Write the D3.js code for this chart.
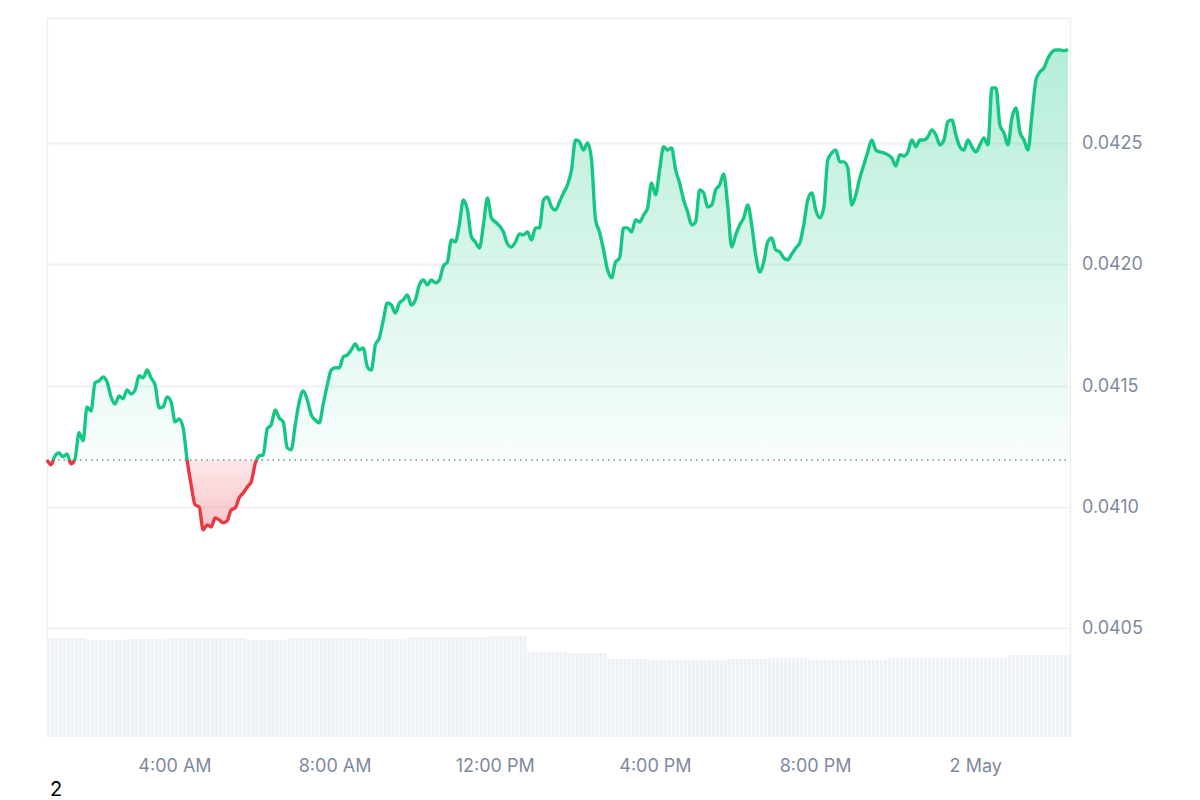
<!DOCTYPE html>
<html>
<head>
<meta charset="utf-8">
<script src="https://cdn.jsdelivr.net/npm/d3@7"></script>
<style>
  body { margin: 0; background: #fff; font-family: Inter, "Noto Sans", sans-serif; }
</style>
</head>
<body>
<div id="chart"></div>
<script>
const width = 1200;
const height = 800;
const margin = { top: 18, right: 130, bottom: 63, left: 47 };

// price every 6 minutes starting 1 May 00:49
const startTime = new Date(2024, 4, 1, 0, 49);
const stepMinutes = 6;
const prices = [
  41193, 41173, 41210, 41222, 41206, 41218, 41177, 41197, 41305, 41272,
  41412, 41395, 41511, 41519, 41535, 41515, 41453, 41424, 41457, 41445,
  41482, 41465, 41482, 41540, 41531, 41564, 41531, 41502, 41408, 41412,
  41453, 41432, 41350, 41362, 41325, 41193, 41090, 41008, 41000, 40905,
  40925, 40917, 40954, 40946, 40934, 40942, 40987, 40995, 41037, 41057,
  41082, 41103, 41177, 41210, 41214, 41321, 41338, 41399, 41366, 41350,
  41243, 41235, 41338, 41432, 41478, 41441, 41379, 41358, 41346, 41424,
  41502, 41564, 41573, 41573, 41618, 41626, 41647, 41671, 41647, 41655,
  41577, 41564, 41667, 41696, 41770, 41840, 41832, 41799, 41840, 41853,
  41873, 41832, 41853, 41915, 41935, 41915, 41935, 41923, 41935, 41993,
  42009, 42100, 42092, 42166, 42265, 42224, 42113, 42092, 42067, 42162,
  42273, 42191, 42174, 42158, 42133, 42084, 42071, 42092, 42125, 42121,
  42133, 42100, 42150, 42150, 42265, 42277, 42236, 42224, 42257, 42294,
  42327, 42389, 42512, 42504, 42471, 42500, 42430, 42183, 42133, 42059,
  41977, 41944, 42009, 42026, 42150, 42150, 42133, 42183, 42174, 42203,
  42232, 42335, 42286, 42389, 42484, 42471, 42479, 42389, 42335, 42265,
  42216, 42162, 42174, 42306, 42294, 42236, 42244, 42306, 42327, 42372,
  42244, 42071, 42121, 42162, 42191, 42244, 42162, 42038, 41968, 42009,
  42092, 42108, 42059, 42051, 42026, 42018, 42042, 42067, 42088, 42162,
  42265, 42294, 42224, 42191, 42232, 42430, 42459, 42471, 42422, 42422,
  42397, 42244, 42286, 42356, 42409, 42463, 42512, 42471, 42463, 42459,
  42451, 42438, 42405, 42451, 42446, 42463, 42512, 42484, 42512, 42512,
  42525, 42554, 42533, 42492, 42512, 42587, 42595, 42533, 42484, 42471,
  42512, 42484, 42463, 42492, 42521, 42492, 42727, 42727, 42574, 42541,
  42492, 42603, 42644, 42545, 42512, 42471, 42615, 42760, 42793, 42809,
  42850, 42875, 42883, 42883, 42880, 42885
].map(v => v / 1e6);

// hourly volume (relative units), one value per hour from 00:49
const volumeHourly = [
  99, 97, 98, 99, 99, 97, 99, 99, 98, 100, 100, 101, 85,
  84, 78, 77, 77, 78, 79, 77, 77, 79, 79, 79, 82, 82
];

const priceTicks = [0.0405, 0.0410, 0.0415, 0.0420, 0.0425];
const timeTicks = [
  new Date(2024, 4, 1, 4), new Date(2024, 4, 1, 8), new Date(2024, 4, 1, 12),
  new Date(2024, 4, 1, 16), new Date(2024, 4, 1, 20), new Date(2024, 4, 2, 0)
];
const timeLabels = ['4:00 AM', '8:00 AM', '12:00 PM', '4:00 PM', '8:00 PM', '2 May'];

const data = prices.map((p, i) => ({
  t: new Date(startTime.getTime() + i * stepMinutes * 60000),
  p,
  v: volumeHourly[Math.min(volumeHourly.length - 1, Math.floor(i * stepMinutes / 60))]
}));
const basePrice = prices[0];

const innerRight = width - margin.right;
const innerBottom = height - margin.bottom;

const x = d3.scaleTime()
  .domain([startTime, data[data.length - 1].t])
  .range([margin.left, innerRight - 2]);

const y = d3.scaleLinear()
  .domain([0.040051, 0.043015])
  .range([innerBottom, margin.top]);

const yVol = d3.scaleLinear()
  .domain([0, 110])
  .range([innerBottom, innerBottom - 110]);

const svg = d3.select('#chart')
  .append('svg')
  .attr('width', width)
  .attr('height', height);

const defs = svg.append('defs');
const gUp = defs.append('linearGradient').attr('id', 'gUp')
  .attr('gradientUnits', 'userSpaceOnUse')
  .attr('x1', 0).attr('x2', 0)
  .attr('y1', y(0.0429)).attr('y2', y(basePrice));
gUp.append('stop').attr('offset', '0%').attr('stop-color', '#16c784').attr('stop-opacity', 0.32);
gUp.append('stop').attr('offset', '100%').attr('stop-color', '#16c784').attr('stop-opacity', 0.03);
const gDown = defs.append('linearGradient').attr('id', 'gDown')
  .attr('gradientUnits', 'userSpaceOnUse')
  .attr('x1', 0).attr('x2', 0).attr('y1', y(basePrice)).attr('y2', y(0.0409));
gDown.append('stop').attr('offset', '0%').attr('stop-color', '#ea3943').attr('stop-opacity', 0.12);
gDown.append('stop').attr('offset', '100%').attr('stop-color', '#ea3943').attr('stop-opacity', 0.3);

defs.append('clipPath').attr('id', 'clipUp').append('rect')
  .attr('x', 0).attr('y', 0).attr('width', width).attr('height', y(basePrice));
defs.append('clipPath').attr('id', 'clipDown').append('rect')
  .attr('x', 0).attr('y', y(basePrice)).attr('width', width).attr('height', height);

// grid
svg.append('g').selectAll('line')
  .data(priceTicks)
  .join('line')
  .attr('x1', margin.left).attr('x2', innerRight)
  .attr('y1', d => Math.round(y(d)) + 0.5).attr('y2', d => Math.round(y(d)) + 0.5)
  .attr('stroke', '#eff1f4').attr('stroke-width', 2);

// frame
svg.append('path')
  .attr('d', `M${margin.left + 0.5},${innerBottom}V${margin.top + 0.5}H${innerRight + 0.5}V${innerBottom}`)
  .attr('fill', 'none').attr('stroke', '#eceef1').attr('stroke-width', 1.5);

// volume
svg.append('g').selectAll('rect')
  .data(data)
  .join('rect')
  .attr('x', d => x(d.t))
  .attr('width', 3.2)
  .attr('y', d => yVol(d.v))
  .attr('height', d => yVol(0) - yVol(d.v))
  .attr('fill', '#eef1f5');

// area fills
const area = d3.area()
  .x(d => x(d.t))
  .y0(y(basePrice))
  .y1(d => y(d.p))
  .curve(d3.curveMonotoneX);

svg.append('path').datum(data).attr('d', area)
  .attr('fill', 'url(#gUp)').attr('clip-path', 'url(#clipUp)');
svg.append('path').datum(data).attr('d', area)
  .attr('fill', 'url(#gDown)').attr('clip-path', 'url(#clipDown)');

// baseline
svg.append('line')
  .attr('x1', margin.left).attr('x2', innerRight)
  .attr('y1', y(basePrice)).attr('y2', y(basePrice))
  .attr('stroke', '#858ca2').attr('stroke-width', 1.3)
  .attr('stroke-dasharray', '1.5,4');

// price line
const line = d3.line()
  .x(d => x(d.t))
  .y(d => y(d.p))
  .curve(d3.curveMonotoneX);

svg.append('path').datum(data).attr('d', line)
  .attr('fill', 'none').attr('stroke', '#16c784').attr('stroke-width', 3.4)
  .attr('stroke-linejoin', 'round').attr('clip-path', 'url(#clipUp)');
svg.append('path').datum(data).attr('d', line)
  .attr('fill', 'none').attr('stroke', '#ea3943').attr('stroke-width', 3.4)
  .attr('stroke-linejoin', 'round').attr('clip-path', 'url(#clipDown)');

// right axis
const yAxis = svg.append('g')
  .attr('transform', `translate(${innerRight}, 0)`)
  .call(d3.axisRight(y).tickValues(priceTicks).tickSize(0).tickPadding(12).tickFormat(d3.format('.4f')));
yAxis.select('.domain').remove();
yAxis.selectAll('text')
  .attr('fill', '#808a9d').style('font-size', '18px')
  .style('font-family', 'Inter, "Noto Sans", sans-serif');

// bottom axis
const xAxis = svg.append('g')
  .attr('transform', `translate(0, ${innerBottom})`)
  .call(d3.axisBottom(x).tickValues(timeTicks).tickSize(0).tickPadding(22)
    .tickFormat((d, i) => timeLabels[i]));
xAxis.select('.domain').remove();
xAxis.selectAll('text')
  .attr('fill', '#808a9d').style('font-size', '18px')
  .style('font-family', 'Inter, "Noto Sans", sans-serif');

svg.append('text')
  .attr('x', 50).attr('y', 796)
  .style('font-size', '20px')
  .attr('fill', '#000')
  .text('2');
</script>
</body>
</html>
